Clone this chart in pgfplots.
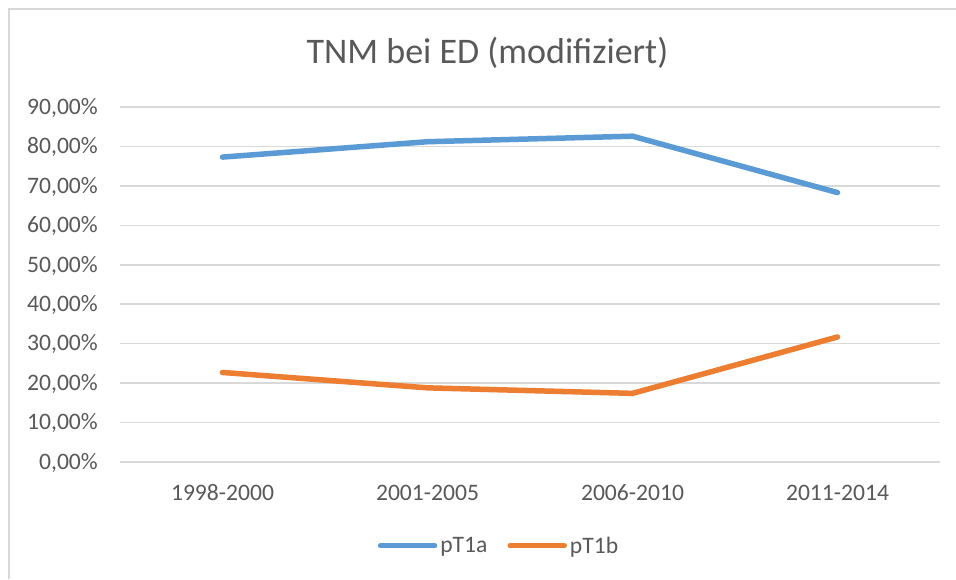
\documentclass[border=0pt]{standalone}
\usepackage{pgfplots}
\pgfplotsset{compat=1.18}
\usepackage{fontspec}
\setmainfont{Carlito}
\definecolor{sblue}{HTML}{5B9BD5}
\definecolor{sorange}{HTML}{ED7D31}
\definecolor{tgray}{HTML}{595959}
\definecolor{ggray}{HTML}{D9D9D9}
\begin{document}
\begin{tikzpicture}[x=1pt,y=1pt]
\useasboundingbox (0,0) rectangle (956,579);
\fill[white] (0,0) rectangle (956,579);
\draw[ggray, line width=2pt] (8.7,0) -- (8.7,570) -- (956,570);
\node[anchor=base, text=tgray, font=\fontsize{36}{40}\selectfont] at (487.5,515.7) {TNM bei ED (modifiziert)};
\begin{axis}[
  at={(120pt,117pt)}, anchor=south west,
  scale only axis, width=820pt, height=355pt,
  xmin=-0.5, xmax=3.5, ymin=0, ymax=90,
  axis line style={draw=none},
  major tick length=0pt,
  xtick={0,1,2,3},
  xticklabels={1998-2000,2001-2005,2006-2010,2011-2014},
  ytick={0,10,20,30,40,50,60,70,80,90},
  yticklabels={{0,00\%},{10,00\%},{20,00\%},{30,00\%},{40,00\%},{50,00\%},{60,00\%},{70,00\%},{80,00\%},{90,00\%}},
  ymajorgrids,
  major grid style={ggray, line width=1.5pt},
  tick label style={text=tgray, font=\fontsize{23.6}{28}\selectfont, inner sep=0pt},
  xticklabel style={anchor=base, yshift=-38pt},
  yticklabel style={anchor=base east, xshift=-22pt, yshift=-7.3pt},
  legend columns=2,
  legend style={at={(0.4610,-0.2358)}, anchor=center, draw=none, fill=none,
    inner sep=0pt, outer sep=0pt, font=\fontsize{23.6}{28}\selectfont, text=tgray,
    nodes={inner sep=0pt},
    /tikz/every odd column/.append style={column sep=3pt},
    /tikz/every even column/.append style={column sep=20pt}},
  legend image code/.code={\draw[#1, line cap=round] (0pt,0pt) -- (54pt,0pt);},
]
\addplot[sblue, line width=5.5pt, line cap=round, line join=round] coordinates {(0,77.3) (1,81.2) (2,82.6) (3,68.3)};
\addlegendentry{pT1a}
\addplot[sorange, line width=5.5pt, line cap=round, line join=round] coordinates {(0,22.7) (1,18.8) (2,17.4) (3,31.7)};
\addlegendentry{pT1b}
\end{axis}
\end{tikzpicture}
\end{document}
